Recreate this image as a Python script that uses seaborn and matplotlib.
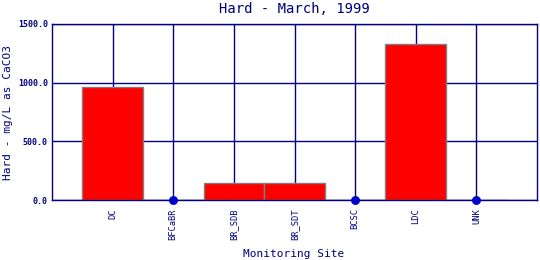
import matplotlib
matplotlib.use("Agg")
import matplotlib.pyplot as plt
import seaborn as sns
import pandas as pd

sites = ["DC", "BFCaBR", "BR_SDB", "BR_SDT", "BCSC", "LDC", "UNK"]
hardness = [960.0, 0.0, 142.0, 142.0, 0.0, 1330.0, 0.0]
yticks = [0.0, 500.0, 1000.0, 1500.0]

sns.set_style("white")
plt.rcParams['font.family'] = ['DejaVu Sans Mono']
navy = "#000080"

df = pd.DataFrame({"site": sites, "hard": hardness})
zeros = df[df["hard"] == 0]

fig = plt.figure(figsize=(5.4, 2.6), dpi=100)
ax = fig.add_axes([52/540, 60/260, (537-52)/540, (200-24)/260])

for y in yticks:
    ax.axhline(y, color=navy, lw=1.0, zorder=0)
for i in range(len(sites)):
    ax.axvline(i, color=navy, lw=1.0, zorder=0)

sns.barplot(data=df, x="site", y="hard", color="red", saturation=1,
            edgecolor="#808080", linewidth=1.0, width=1.0, ax=ax, zorder=2)
sns.scatterplot(x=zeros.index.to_numpy(), y=zeros["hard"].to_numpy(), color="#0000CC",
                s=35, edgecolor="#0000CC", ax=ax, zorder=3, clip_on=False)

ax.set_xlim(-1, len(sites))
ax.set_ylim(0, 1500)
ax.set_yticks(yticks)
ax.set_yticklabels([f"{v:.1f}" for v in yticks], fontsize=6, fontweight="bold", color=navy)
ax.set_xticks(range(len(sites)))
ax.set_xticklabels(sites, rotation=90, fontsize=6.3, color=navy)
ax.tick_params(axis="x", length=0, pad=6)
ax.tick_params(axis="y", length=0, pad=3)
for s in ax.spines.values():
    s.set_color(navy)
    s.set_linewidth(1.0)
ax.set_xlabel("")
ax.set_ylabel("")
fig.text(294/540, 1 - 254/260, "Monitoring Site", fontsize=8, color=navy,
         ha="center", va="center")
fig.text(8/540, 1 - 112/260, "Hard - mg/L as CaCO3", fontsize=8, color=navy,
         ha="center", va="center", rotation=90)
fig.text(294/540, 1 - 9/260, "Hard - March, 1999", fontsize=10, color=navy,
         ha="center", va="center")

fig.savefig("out.png", dpi=100)
